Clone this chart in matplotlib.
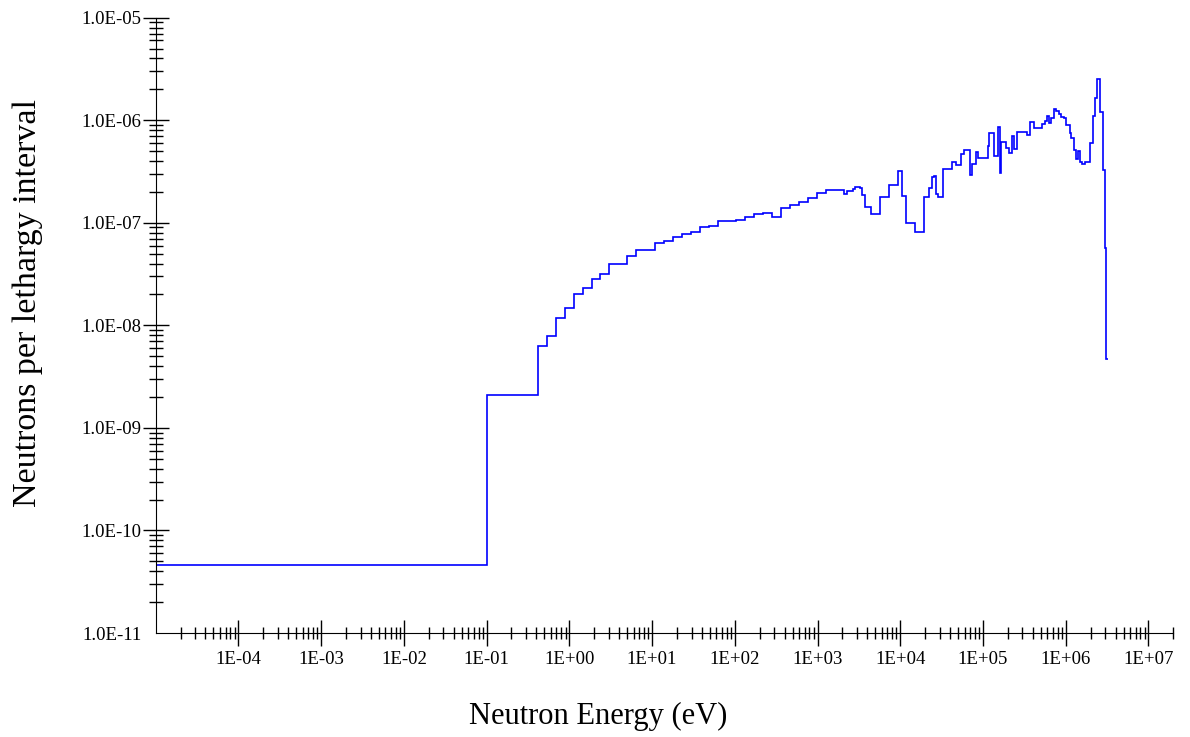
import matplotlib
matplotlib.use("Agg")
import matplotlib.pyplot as plt
from matplotlib.ticker import FixedLocator, FuncFormatter

# bin edges of the spectrum (eV)
energy_edges = [1e-5, 0.1, 0.414, 0.532, 0.683, 0.877, 1.13, 1.45, 1.86, 2.38,
                3.06, 5.04, 6.48, 10.8, 13.9, 17.8, 22.9, 29.4, 37.8, 48.6,
                62.5, 80.2, 103, 132, 170, 219, 281, 361, 464, 596,
                761, 984, 1264, 2063, 2268, 2650, 2857, 3282, 3475, 3776,
                4399, 5623, 7228, 9268, 10570, 11830, 15180, 19500, 22230, 24160,
                25280, 27240, 28560, 32490, 42200, 47540, 54200, 58240, 70150, 73620,
                82260, 87050, 98900, 113700, 119200, 137000, 150300, 158900, 166400, 189700,
                204000, 224400, 234700, 257700, 282500, 340500, 373300, 409300, 516800, 566600,
                594200, 621300, 664200, 714000, 763700, 820700, 877400, 943300, 1.016e6, 1.114e6,
                1.169e6, 1.247e6, 1.332e6, 1.408e6, 1.472e6, 1.573e6, 1.692e6, 1.982e6, 2.113e6, 2.235e6,
                2.392e6, 2.585e6, 2.820e6, 2.949e6, 3.097e6, 3.273e6]

# neutrons per lethargy interval in each bin
flux = [4.60e-11, 2.10e-9, 6.30e-9, 7.93e-9, 1.18e-8, 1.49e-8, 2.01e-8, 2.33e-8, 2.85e-8, 3.19e-8,
        3.94e-8, 4.71e-8, 5.40e-8, 6.31e-8, 6.65e-8, 7.31e-8, 7.73e-8, 8.18e-8, 9.04e-8, 9.31e-8,
        1.05e-7, 1.03e-7, 1.06e-7, 1.15e-7, 1.21e-7, 1.24e-7, 1.15e-7, 1.40e-7, 1.50e-7, 1.61e-7,
        1.75e-7, 1.94e-7, 2.11e-7, 1.91e-7, 2.03e-7, 2.14e-7, 2.22e-7, 2.17e-7, 1.88e-7, 1.44e-7,
        1.22e-7, 1.77e-7, 2.35e-7, 3.18e-7, 1.83e-7, 9.89e-8, 8.18e-8, 1.77e-7, 2.17e-7, 2.78e-7,
        2.86e-7, 1.91e-7, 1.77e-7, 3.32e-7, 3.92e-7, 3.70e-7, 4.66e-7, 5.13e-7, 2.92e-7, 3.74e-7,
        4.93e-7, 4.31e-7, 4.26e-7, 5.61e-7, 7.57e-7, 4.48e-7, 8.65e-7, 3.08e-7, 6.18e-7, 5.33e-7,
        4.83e-7, 7.02e-7, 5.21e-7, 7.73e-7, 7.73e-7, 7.18e-7, 9.55e-7, 8.34e-7, 9.10e-7, 9.84e-7,
        1.11e-6, 9.33e-7, 1.06e-6, 1.29e-6, 1.23e-6, 1.14e-6, 1.07e-6, 1.05e-6, 8.99e-7, 7.46e-7,
        6.67e-7, 5.13e-7, 4.16e-7, 5.01e-7, 3.94e-7, 3.72e-7, 3.94e-7, 6.0e-7, 1.11e-6, 1.65e-6,
        2.51e-6, 1.21e-6, 3.27e-7, 5.74e-8, 4.70e-9]

# tick positions
x_major = [1e-4, 1e-3, 1e-2, 1e-1, 1e0, 1e1, 1e2, 1e3, 1e4, 1e5, 1e6, 1e7]
y_major = [1e-11, 1e-10, 1e-9, 1e-8, 1e-7, 1e-6, 1e-5]

plt.rcParams['font.family'] = ['Liberation Serif', 'DejaVu Serif']

fig = plt.figure(figsize=(11.9, 7.37), dpi=100)
ax = fig.add_axes([0.1308, 0.1411, 0.986 - 0.1308, 0.976 - 0.1411])

# the step spectrum
ax.stairs(flux, energy_edges, baseline=None, color='#0000ff', linewidth=1.2)

ax.set_xscale('log')
ax.set_yscale('log')
ax.set_xlim(1e-5, 2e7)
ax.set_ylim(1e-11, 1e-5)

# only left and bottom axis lines
ax.spines['top'].set_visible(False)
ax.spines['right'].set_visible(False)

# minor ticks 2..9 in every decade
x_minor = [m * 10.0 ** d for d in range(-5, 8) for m in range(2, 10) if m * 10.0 ** d <= 2e7]
y_minor = [m * 10.0 ** d for d in range(-11, -5) for m in range(2, 10)]

ax.xaxis.set_major_locator(FixedLocator(x_major))
ax.xaxis.set_minor_locator(FixedLocator(x_minor))
ax.yaxis.set_major_locator(FixedLocator(y_major))
ax.yaxis.set_minor_locator(FixedLocator(y_minor))

ax.xaxis.set_major_formatter(FuncFormatter(lambda v, p: f"{v:.0E}"))
ax.yaxis.set_major_formatter(FuncFormatter(lambda v, p: f"{v:.1E}"))
ax.xaxis.set_minor_formatter(FuncFormatter(lambda v, p: ""))
ax.yaxis.set_minor_formatter(FuncFormatter(lambda v, p: ""))

ax.tick_params(axis='x', which='major', direction='inout', length=19, width=1, pad=3.5, labelsize=13.5)
ax.tick_params(axis='x', which='minor', direction='inout', length=8, width=1)
ax.tick_params(axis='y', which='major', direction='inout', length=19, width=1, pad=0.5, labelsize=13.5)
ax.tick_params(axis='y', which='minor', direction='inout', length=10, width=1)

# no tick sticking out at the corner
ax.yaxis.get_major_ticks()[0].tick1line.set_visible(False)

# axis titles
fig.text(0.5025, 0.0285, "Neutron Energy (eV)", ha='center', va='center', fontsize=22)
fig.text(0.0235, 0.589, "Neutrons per lethargy interval", ha='center', va='center',
         rotation=90, fontsize=24.5)

plt.savefig("out.png", dpi=100)
